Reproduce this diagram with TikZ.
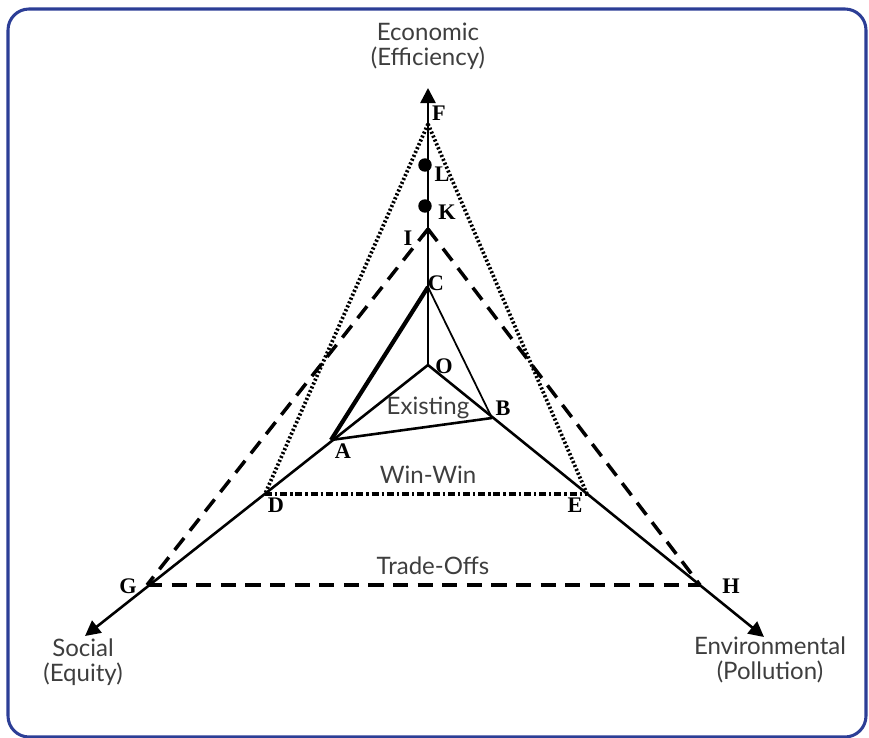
\documentclass[tikz,border=0pt]{standalone}
\usepackage{fontspec}
\setmainfont{Lato}
\newfontfamily\ptfont{Liberation Serif}
\usetikzlibrary{arrows.meta}

\definecolor{frameblue}{RGB}{44,62,150}
\definecolor{txtgray}{RGB}{62,62,62}

\begin{document}
\begin{tikzpicture}[x=0.03cm,y=-0.03cm,
	axis/.style={line width=2.2pt,-{Triangle[length=13pt,width=13pt]}},
	pt/.style={font=\ptfont\bfseries\fontsize{19}{19}\selectfont,inner sep=1pt},
	word/.style={text=txtgray,font=\fontsize{20.5}{21.5}\selectfont,align=center},
	dotline/.style={line width=3.2pt,dash pattern=on 1.8pt off 1.8pt},
	dashline/.style={line width=3pt,dash pattern=on 13pt off 8pt},
	dashdotline/.style={line width=3pt,dash pattern=on 6pt off 2.5pt on 2pt off 2.5pt},
	blob/.style={circle,fill=black,inner sep=0pt,minimum size=11.5pt}]
			
			\useasboundingbox (0,0) rectangle (869,738);
			\draw[frameblue,line width=2.6pt,rounded corners=18] (8,9) rectangle (866,737);
			
			% points
			\coordinate (O) at (428,365);
			\coordinate (C) at (428,287);
			\coordinate (I) at (428,229);
			\coordinate (F) at (428,124);
			\coordinate (A) at (331,440);
			\coordinate (B) at (492,418);
			\coordinate (D) at (265,494);
			\coordinate (E) at (587,494);
			\coordinate (G) at (147,585);
			\coordinate (H) at (700,585);
			\coordinate (top) at (428,88);
			\coordinate (sw) at (85,636);
			\coordinate (se) at (764,637);
			
			% axes
			\draw[axis] (O) -- (top);
			\draw[axis] (O) -- (sw);
			\draw[axis] (O) -- (se);
			\draw[line width=1.5pt,-{Straight Barb[length=5pt,width=8pt]}] (C) -- (I);
			
			\node[blob] (L) at (425,165) {};
			\node[blob] (K) at (425,206) {};
			
			% existing
			\draw[line width=3.6pt] (C) -- (A);
			\draw[line width=1.5pt] (C) -- (B);
			\draw[line width=2.2pt] (A) -- (B);
			
			% win-win
			\draw[dotline] (F) -- (D);
			\draw[dotline] (F) -- (E);
			\draw[dashdotline] (D) -- (E);
			
			% trade-offs
			\draw[dashline] (I) -- (G);
			\draw[dashline] (I) -- (H);
			\draw[dashline] (G) -- (H);
			
			\node[word] (econ) at (428,46) {Economic\\(Efficiency)};
			\node[word] (soc) at (83,662) {Social\\(Equity)};
			\node[word] (env) at (770,660) {Environmental\\(Pollution)};
			\node[word] (exist) at (428,408) {Existing};
			\node[word] (win) at (428,475) {Win-Win};
			\node[word] (trade) at (433,566) {Trade-Offs};
			
			\node[pt] (lF) at (439,113) {F};
			\node[pt] (lL) at (442,174) {L};
			\node[pt] (lK) at (447,212) {K};
			\node[pt] (lI) at (408,238) {I};
			\node[pt] (lC) at (436,283) {C};
			\node[pt] (lO) at (444,366) {O};
			\node[pt] (lB) at (503,408) {B};
			\node[pt] (lA) at (343,451) {A};
			\node[pt] (lD) at (276,505) {D};
			\node[pt] (lE) at (575,505) {E};
			\node[pt] (lG) at (128,586) {G};
			\node[pt] (lH) at (731,586) {H};
			
		\end{tikzpicture}
\end{document}
